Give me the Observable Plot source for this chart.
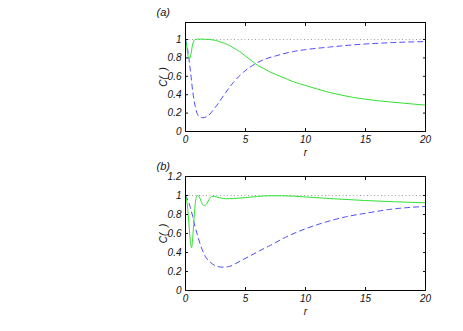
<!DOCTYPE html>
<html>
<head>
<meta charset="utf-8">
<script src="https://cdn.jsdelivr.net/npm/d3@7"></script>
<script src="https://cdn.jsdelivr.net/npm/@observablehq/plot@0.6"></script>
<style>
  html, body { margin: 0; padding: 0; background: #fff; }
  #wrap { position: relative; width: 463px; height: 331px; }
  .panel { position: absolute; left: 0; }
</style>
</head>
<body>
<div id="wrap">
  <div class="panel" id="pa" style="top:0px"></div>
  <div class="panel" id="pb" style="top:148px"></div>
</div>
<script>
// ---- data ----
const xTicks = [0, 5, 10, 15, 20];
const yTicksA = [0, 0.2, 0.4, 0.6, 0.8, 1];
const yTicksB = [0, 0.2, 0.4, 0.6, 0.8, 1, 1.2];
const refLine = [1];

// panel (a)
const rA_green = [0, 0.1, 0.2, 0.33, 0.45, 0.6, 0.8, 1.2, 1.6, 2, 2.5, 3, 3.5, 4, 4.5, 5, 5.5, 6, 6.5, 7, 8, 9, 10, 12, 14, 16, 18, 20];
const cA_green = [1, 0.93, 0.83, 0.79, 0.84, 0.95, 1.0, 1.005, 1.003, 1.0, 0.99, 0.97, 0.945, 0.91, 0.87, 0.82, 0.77, 0.72, 0.685, 0.65, 0.595, 0.54, 0.5, 0.425, 0.37, 0.335, 0.31, 0.287];
const rA_blue = [0, 0.17, 0.39, 0.61, 0.8, 1.08, 1.42, 1.92, 2.47, 3.17, 4, 4.83, 5.8, 6.5, 7.6, 9, 10, 12, 14.6, 17, 20];
const cA_blue = [1, 0.9, 0.68, 0.43, 0.28, 0.17, 0.15, 0.175, 0.26, 0.39, 0.535, 0.645, 0.735, 0.78, 0.825, 0.87, 0.89, 0.918, 0.948, 0.965, 0.978];

// panel (b)
const rB_green = [0, 0.15, 0.3, 0.4, 0.5, 0.6, 0.7, 0.8, 0.9, 1.0, 1.15, 1.3, 1.45, 1.58, 1.75, 1.95, 2.2, 2.6, 3.0, 3.4, 4, 5, 6, 7, 8, 10, 12, 15, 20];
const cB_green = [1, 0.9, 0.68, 0.52, 0.45, 0.55, 0.74, 0.9, 0.98, 1.0, 0.985, 0.94, 0.9, 0.895, 0.91, 0.955, 0.99, 0.985, 0.972, 0.965, 0.968, 0.978, 0.99, 0.997, 0.997, 0.985, 0.968, 0.947, 0.923];
const rB_blue = [0, 0.2, 0.39, 0.6, 0.8, 1.0, 1.22, 1.64, 2.05, 2.6, 3.17, 3.7, 4.55, 5.4, 6.2, 7, 8.33, 10, 11.67, 13.33, 15.1, 17.1, 20];
const cB_blue = [1, 0.95, 0.88, 0.78, 0.67, 0.58, 0.49, 0.36, 0.3, 0.255, 0.245, 0.255, 0.31, 0.365, 0.42, 0.47, 0.56, 0.65, 0.72, 0.775, 0.815, 0.855, 0.885];

const zip = (xs, ys) => xs.map((r, i) => ({r, c: ys[i]}));
const fmt = (d) => String(d);

function panel({tag, yDomain, yTicks, green, blue, height, marginTop, marginBottom}) {
  return Plot.plot({
    width: 463,
    height,
    marginLeft: 185,
    marginRight: 38,
    marginTop,
    marginBottom,
    style: {fontFamily: "Liberation Sans, Arial, sans-serif", fontSize: "10px", fontStyle: "italic", color: "#111", background: "transparent"},
    x: {domain: [0, 20]},
    y: {domain: yDomain},
    marks: [
      Plot.ruleY(refLine, {stroke: "#a0a0a0", strokeDasharray: "1,2.5"}),
      Plot.line(blue, {x: "r", y: "c", stroke: "#4a4aff", strokeWidth: 1, strokeDasharray: "5,4", curve: "monotone-x"}),
      Plot.line(green, {x: "r", y: "c", stroke: "#33e033", strokeWidth: 1, curve: "monotone-x"}),
      Plot.frame({stroke: "#000"}),
      Plot.axisX(xTicks, {anchor: "bottom", tickSize: -3, tickPadding: 7, tickFormat: fmt, label: "r", labelAnchor: "center", labelArrow: "none", labelOffset: 24}),
      Plot.axisX(xTicks, {anchor: "top", tickSize: -3, tickPadding: 0, label: null, tickFormat: () => ""}),
      Plot.axisY(yTicks, {anchor: "left", tickSize: -3, tickPadding: 7, tickFormat: fmt, label: "C(\u00a0\u00a0)", labelAnchor: "center", labelArrow: "none", labelOffset: 26}),
      Plot.axisY(yTicks, {anchor: "right", tickSize: -3, tickPadding: 0, label: null, tickFormat: () => ""}),
      Plot.text([tag], {frameAnchor: "top-left", dx: -29, dy: -14, fontSize: 11, fontStyle: "italic"})
    ]
  });
}

document.getElementById("pa").append(panel({
  tag: "(a)", yDomain: [0, 1.185], yTicks: yTicksA,
  green: zip(rA_green, cA_green), blue: zip(rA_blue, cA_blue),
  height: 160, marginTop: 22, marginBottom: 29
}));
document.getElementById("pb").append(panel({
  tag: "(b)", yDomain: [0, 1.2], yTicks: yTicksB,
  green: zip(rB_green, cB_green), blue: zip(rB_blue, cB_blue),
  height: 183, marginTop: 28, marginBottom: 41
}));
</script>
</body>
</html>
